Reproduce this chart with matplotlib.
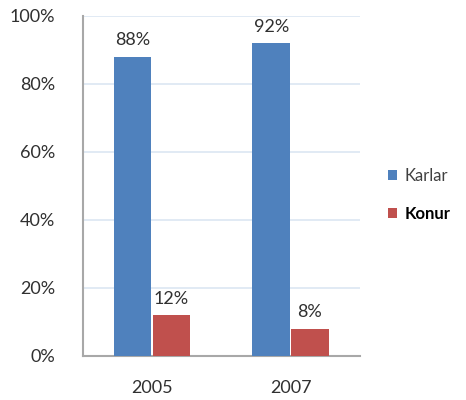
import matplotlib.pyplot as plt
import numpy as np

years = ['2005', '2007']
karlar = [88, 92]
konur = [12, 8]
yticks = [0, 20, 40, 60, 80, 100]

plt.rcParams['font.family'] = ['Lato', 'DejaVu Sans']

fig = plt.figure(figsize=(4.66, 4.0), dpi=100)
ax = fig.add_axes([0.178, 0.11, 0.594, 0.85])

x = np.arange(len(years))
w = 0.27
b1 = ax.bar(x - 0.14, karlar, w, color='#4f81bd', label='Karlar', zorder=3)
b2 = ax.bar(x + 0.14, konur, w, color='#c0504d', label='Konur', zorder=3)

for bars, vals in ((b1, karlar), (b2, konur)):
    for r, v in zip(bars, vals):
        ax.text(r.get_x() + r.get_width() / 2, v + 2.5, f'{v}%', ha='center',
                va='bottom', fontsize=13, color='#303030')

ax.set_xlim(-0.5, 1.5)
ax.set_ylim(0, 100)
ax.set_yticks(yticks)
ax.set_yticklabels([f'{t}%' for t in yticks])
ax.set_xticks(x)
ax.set_xticklabels(years)
ax.tick_params(axis='both', length=0, labelsize=13, labelcolor='#303030')
ax.tick_params(axis='y', pad=20)
ax.tick_params(axis='x', pad=17)
ax.grid(axis='y', color='#dce6f2', linewidth=1.2, zorder=0)
for s in ['top', 'right']:
    ax.spines[s].set_visible(False)
for s in ['left', 'bottom']:
    ax.spines[s].set_color('#a8a8a8')
    ax.spines[s].set_linewidth(1.5)

leg = fig.legend(handles=[b1, b2], loc='upper left', bbox_to_anchor=(0.80, 0.617),
                 frameon=False, fontsize=12, handlelength=0.55, handleheight=0.55,
                 labelspacing=1.3, handletextpad=0.45)
txts = leg.get_texts()
txts[0].set_color('#404040')
txts[1].set_color('black')
txts[1].set_fontweight('bold')

fig.savefig('out.png')
